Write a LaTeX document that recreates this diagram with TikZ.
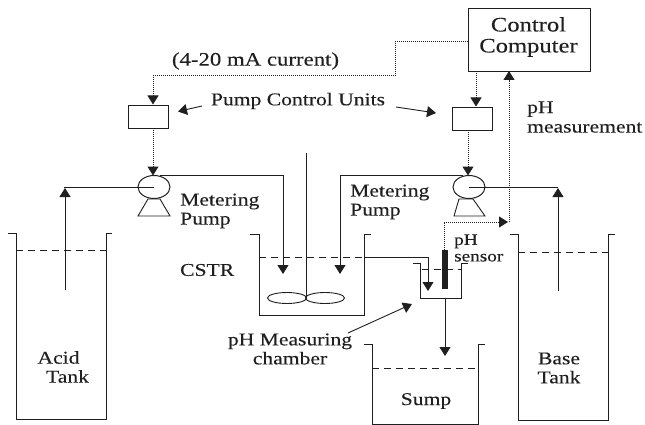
\documentclass[tikz,border=0pt]{standalone}
\usepackage{fontspec}
\setmainfont[FakeStretch=1.2,FakeBold=0.15]{Liberation Serif}
\usetikzlibrary{arrows.meta,shapes.geometric,calc}
\definecolor{ink}{gray}{0.12}
\tikzset{
  wire/.style={draw=ink,line width=0.9pt},
  flow/.style={wire,-{Triangle[length=9pt,width=11pt]}},
  sig/.style={draw=ink,line width=1pt,dash pattern=on 1pt off 1pt},
  sigflow/.style={sig,-{Triangle[length=9pt,width=11pt,sep=0pt]}},
  level/.style={draw=ink,line width=0.9pt,dash pattern=on 7pt off 5pt},
  box/.style={draw=ink,line width=1pt,inner sep=0pt,anchor=north west},
  pumpc/.style={ellipse,draw=ink,line width=1pt,minimum width=32pt,minimum height=23pt,inner sep=0pt},
  blade/.style={ellipse,draw=ink,line width=0.9pt,minimum width=39pt,minimum height=11pt,inner sep=0pt},
  lbl/.style={inner sep=0pt,text=ink,font=\fontsize{18}{19}\selectfont,align=center},
  lbll/.style={lbl,align=left,anchor=west},
  small/.style={lbl,font=\fontsize{16}{16.5}\selectfont,align=left,anchor=west},
  coord/.style={coordinate}
}
\begin{document}
\begin{tikzpicture}[x=1pt,y=-1pt]
\useasboundingbox (0,0) rectangle (645,425);
% boxes
\node[box,minimum width=122pt,minimum height=63pt] (cc) at (468,8) {};
\node[lbl,font=\fontsize{20.5}{20.5}\selectfont] (cct) at (528.5,37) {Control\\[0.5pt]Computer};
\node[box,minimum width=40pt,minimum height=23pt] (ul) at (128,105) {};
\node[box,minimum width=40pt,minimum height=23pt] (ur) at (452,107) {};
% pumps
\node[pumpc] (pl) at (154,187) {};
\node[pumpc] (pr) at (469,187) {};
\draw[wire] (148,199)--(160,199)--(170,216)--(138,216)--cycle;
\draw[wire] (459,199)--(473,199)--(485,216)--(454,216)--cycle;
% tanks
\draw[wire] (8,233)--(16,233)--(16,419)--(106,419)--(106,233)--(112,233);
\draw[level] (16,250)--(106,250);
\draw[wire] (250,234)--(259,234)--(259,315)--(364,315)--(364,234)--(371,234);
\draw[level] (259,257)--(364,257);
\draw[wire] (413,263)--(420,263)--(420,298)--(461,298)--(461,263)--(468,263);
\draw[level] (422,269)--(461,269);
\draw[wire] (364,344)--(372,344)--(372,424)--(478,424)--(478,344)--(485,344);
\draw[level] (372,368)--(478,368);
\draw[wire] (510,234)--(518,234)--(518,420)--(608,420)--(608,234)--(615,234);
\draw[level] (518,252)--(608,252);
% impeller
\node[blade] (bl) at (287,298) {};
\node[blade] (br) at (325,298) {};
\coordinate (shtop) at (306,153);
\coordinate (shbot) at (306,298);
\draw[wire] (shtop)--(shbot);
% sensor
\node[fill=ink,draw=none,inner sep=0pt,minimum width=5.5pt,minimum height=39pt,anchor=north] (sen) at (445,250) {};
% coordinates
\coordinate (c1) at (395,42);
\coordinate (c2) at (395,76);
\coordinate (c3) at (153,76);
\coordinate (c4) at (153,104.5);
\coordinate (ccL) at (cc.west |- c1);
\coordinate (ccB) at (476,71);
\coordinate (urT) at (476,106.5);
\coordinate (ulB) at (153,128);
\coordinate (plT) at (153,175.5);
\coordinate (urB) at (468,130);
\coordinate (prT) at (468,175.5);
\coordinate (s1) at (444,222);
\coordinate (s2) at (508,222);
\coordinate (ccM) at (509,71);
\coordinate (m1) at (509,222);
% signals
\draw[sigflow] (ccL)--(c1)--(c2)--(c3)--(c4);
\draw[sigflow] (ccB)--(urT);
\draw[sigflow] (ulB)--(plT);
\draw[sigflow] (urB)--(prT);
\draw[sigflow] (sen.north -| s1)--(s1)--(s2);
\draw[sigflow] (m1)--(ccM);
% acid / base feed
\coordinate (a1) at (64,187);
\coordinate (a2) at (65,290);
\coordinate (a3) at (65,188);
\draw[wire] (pl.center)--(a1);
\draw[flow] (a2)--(a3);
\coordinate (b1) at (558,187);
\coordinate (b2) at (558,291);
\coordinate (b3) at (558,188);
\draw[wire] (pr.center)--(b1);
\draw[flow] (b2)--(b3);
% dosing
\coordinate (d1) at (160,175);
\coordinate (d2) at (283,175);
\coordinate (d3) at (283,274);
\draw[flow] (d1)--(d2)--(d3);
\coordinate (e1) at (463,175);
\coordinate (e2) at (340,175);
\coordinate (e3) at (340,274);
\draw[flow] (e1)--(e2)--(e3);
% overflow and drain
\coordinate (o1) at (364,257);
\coordinate (o2) at (428,257);
\coordinate (o3) at (428,291);
\draw[flow] (o1)--(o2)--(o3);
\coordinate (dr1) at (445,298);
\coordinate (dr2) at (445,356);
\draw[flow] (dr1)--(dr2);
% labels
\node[lbl,font=\fontsize{19}{19}\selectfont] (cur) at (255.5,61) {(4-20 mA current)};
\node[lbl] (puc) at (298,101) {Pump Control Units};
\node[lbll] (ph) at (527,117) {pH\\[0.5pt]measurement};
\node[lbll] (ml) at (180,211) {Metering\\Pump};
\node[lbll] (mr) at (350,202) {Metering\\Pump};
\node[lbll] (cs) at (180,270) {CSTR};
\node[lbl] (mc) at (290,349) {pH Measuring\\chamber};
\node[small] (ps) at (454,248) {pH\\sensor};
\node[lbl] (at) at (63,367) {\hspace*{-9pt}Acid\\\hspace*{9pt}Tank};
\node[lbl] (bt) at (559,368) {Base\\Tank};
\node[lbl] (su) at (426,401) {Sump};
\coordinate (pa1) at (202,106);
\coordinate (pa2) at (178,111.5);
\coordinate (pb1) at (396,107);
\coordinate (pb2) at (436,113);
\coordinate (ca1) at (348,333);
\coordinate (ca2) at (412,304);
\draw[flow] (pa1)--(pa2);
\draw[flow] (pb1)--(pb2);
\draw[flow] (ca1)--(ca2);
\end{tikzpicture}
\end{document}
